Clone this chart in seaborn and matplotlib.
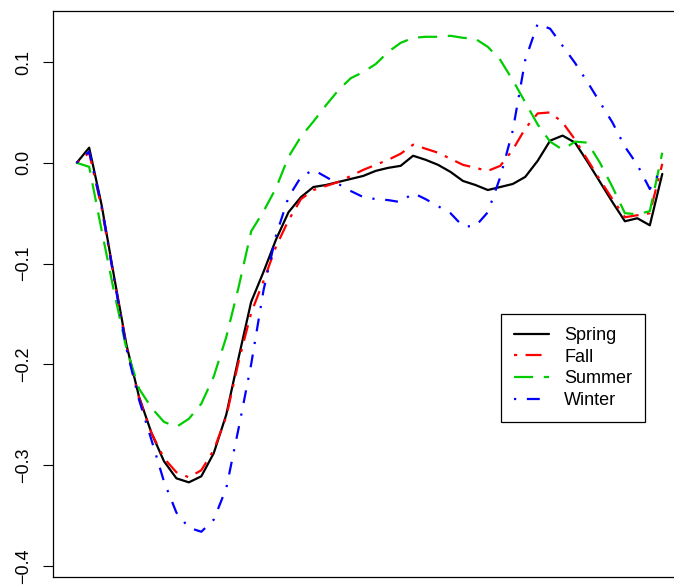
import numpy as np
import pandas as pd
import matplotlib
matplotlib.use("Agg")
import matplotlib.pyplot as plt
import seaborn as sns

x_index = list(range(1, 49))

spring = [0.000, 0.015, -0.042, -0.113, -0.181, -0.232, -0.268, -0.296, -0.313, -0.317,
          -0.311, -0.288, -0.250, -0.193, -0.138, -0.108, -0.076, -0.049, -0.034, -0.024,
          -0.022, -0.019, -0.016, -0.013, -0.008, -0.005, -0.003, 0.007, 0.003, -0.002,
          -0.009, -0.018, -0.022, -0.027, -0.024, -0.021, -0.014, 0.002, 0.022, 0.027,
          0.020, 0.001, -0.019, -0.039, -0.058, -0.055, -0.062, -0.011]

fall = [0.000, 0.010, -0.045, -0.115, -0.183, -0.233, -0.268, -0.293, -0.307, -0.312,
        -0.305, -0.285, -0.252, -0.197, -0.149, -0.117, -0.083, -0.057, -0.036, -0.027,
        -0.023, -0.019, -0.013, -0.007, -0.002, 0.003, 0.009, 0.018, 0.014, 0.010,
        0.004, -0.002, -0.005, -0.008, -0.003, 0.013, 0.034, 0.049, 0.050, 0.040,
        0.023, 0.003, -0.017, -0.036, -0.054, -0.052, -0.050, -0.001]

summer = [0.000, -0.004, -0.067, -0.128, -0.185, -0.224, -0.243, -0.257, -0.262, -0.254,
          -0.239, -0.212, -0.173, -0.123, -0.068, -0.048, -0.025, 0.006, 0.026, 0.041,
          0.057, 0.072, 0.084, 0.090, 0.098, 0.110, 0.119, 0.124, 0.125, 0.125,
          0.126, 0.124, 0.123, 0.115, 0.102, 0.082, 0.060, 0.038, 0.021, 0.013,
          0.021, 0.020, 0.000, -0.024, -0.050, -0.051, -0.048, 0.010]

winter = [0.000, 0.011, -0.043, -0.115, -0.185, -0.235, -0.275, -0.316, -0.347, -0.362,
          -0.366, -0.354, -0.323, -0.263, -0.200, -0.126, -0.072, -0.034, -0.014, -0.007,
          -0.014, -0.021, -0.028, -0.034, -0.036, -0.037, -0.039, -0.030, -0.036, -0.043,
          -0.050, -0.063, -0.063, -0.049, -0.014, 0.032, 0.102, 0.138, 0.133, 0.116,
          0.099, 0.080, 0.060, 0.040, 0.016, -0.002, -0.026, -0.005]

series_names = ["Spring", "Fall", "Summer", "Winter"]
y_ticks = [-0.4, -0.3, -0.2, -0.1, 0.0, 0.1]
y_tick_labels = ["\u22120.4", "\u22120.3", "\u22120.2", "\u22120.1", "0.0", "0.1"]

sns.set_style("white")
plt.rcParams["font.family"] = ["Liberation Sans", "DejaVu Sans"]
plt.rcParams["text.color"] = "black"

fig = plt.figure(figsize=(6.74, 5.85), dpi=100)
ax = fig.add_axes([53.3 / 674, 1 - 577 / 585, (685.7 - 53.3) / 674, (577 - 11) / 585])

styles = {
    "Spring": dict(color="black", linestyle="-"),
    "Fall": dict(color="#ff0000", linestyle=(0, (1.4, 3.8, 7.2, 3.8))),
    "Summer": dict(color="#00cd00", linestyle=(0, (8.6, 4.8))),
    "Winter": dict(color="#0000ff", linestyle=(0, (1.0, 4.8, 5.8, 4.8))),
}
data = {"Spring": spring, "Fall": fall, "Summer": summer, "Winter": winter}

for name in series_names:
    sns.lineplot(x=x_index, y=data[name], ax=ax, label=name, lw=1.6,
                 color=styles[name]["color"], linestyle=styles[name]["linestyle"])

ax.set_xlim(-0.88, 49.88)
ax.set_ylim(-0.4109, 0.1506)
ax.set_xticks([])
ax.set_yticks(y_ticks)
ax.set_yticklabels(y_tick_labels, rotation=90, va="center", fontsize=13)
ax.tick_params(axis="y", direction="out", length=7.5, width=0.8, pad=8, color="black",
               labelcolor="black", left=True)
for sp in ax.spines.values():
    sp.set_visible(True)
    sp.set_color("black")
    sp.set_linewidth(0.9)

leg = ax.legend(loc="upper left", bbox_to_anchor=(500.7 / 674, 1 - 314.3 / 585),
                bbox_transform=fig.transFigure, fontsize=13, frameon=True,
                fancybox=False, edgecolor="black", framealpha=1,
                handlelength=1.95, handletextpad=0.85, labelspacing=0.25,
                borderpad=0.72, borderaxespad=0)
leg.get_frame().set_linewidth(0.9)
for t in leg.get_texts():
    t.set_color("black")

fig.savefig("out.png", dpi=100)
